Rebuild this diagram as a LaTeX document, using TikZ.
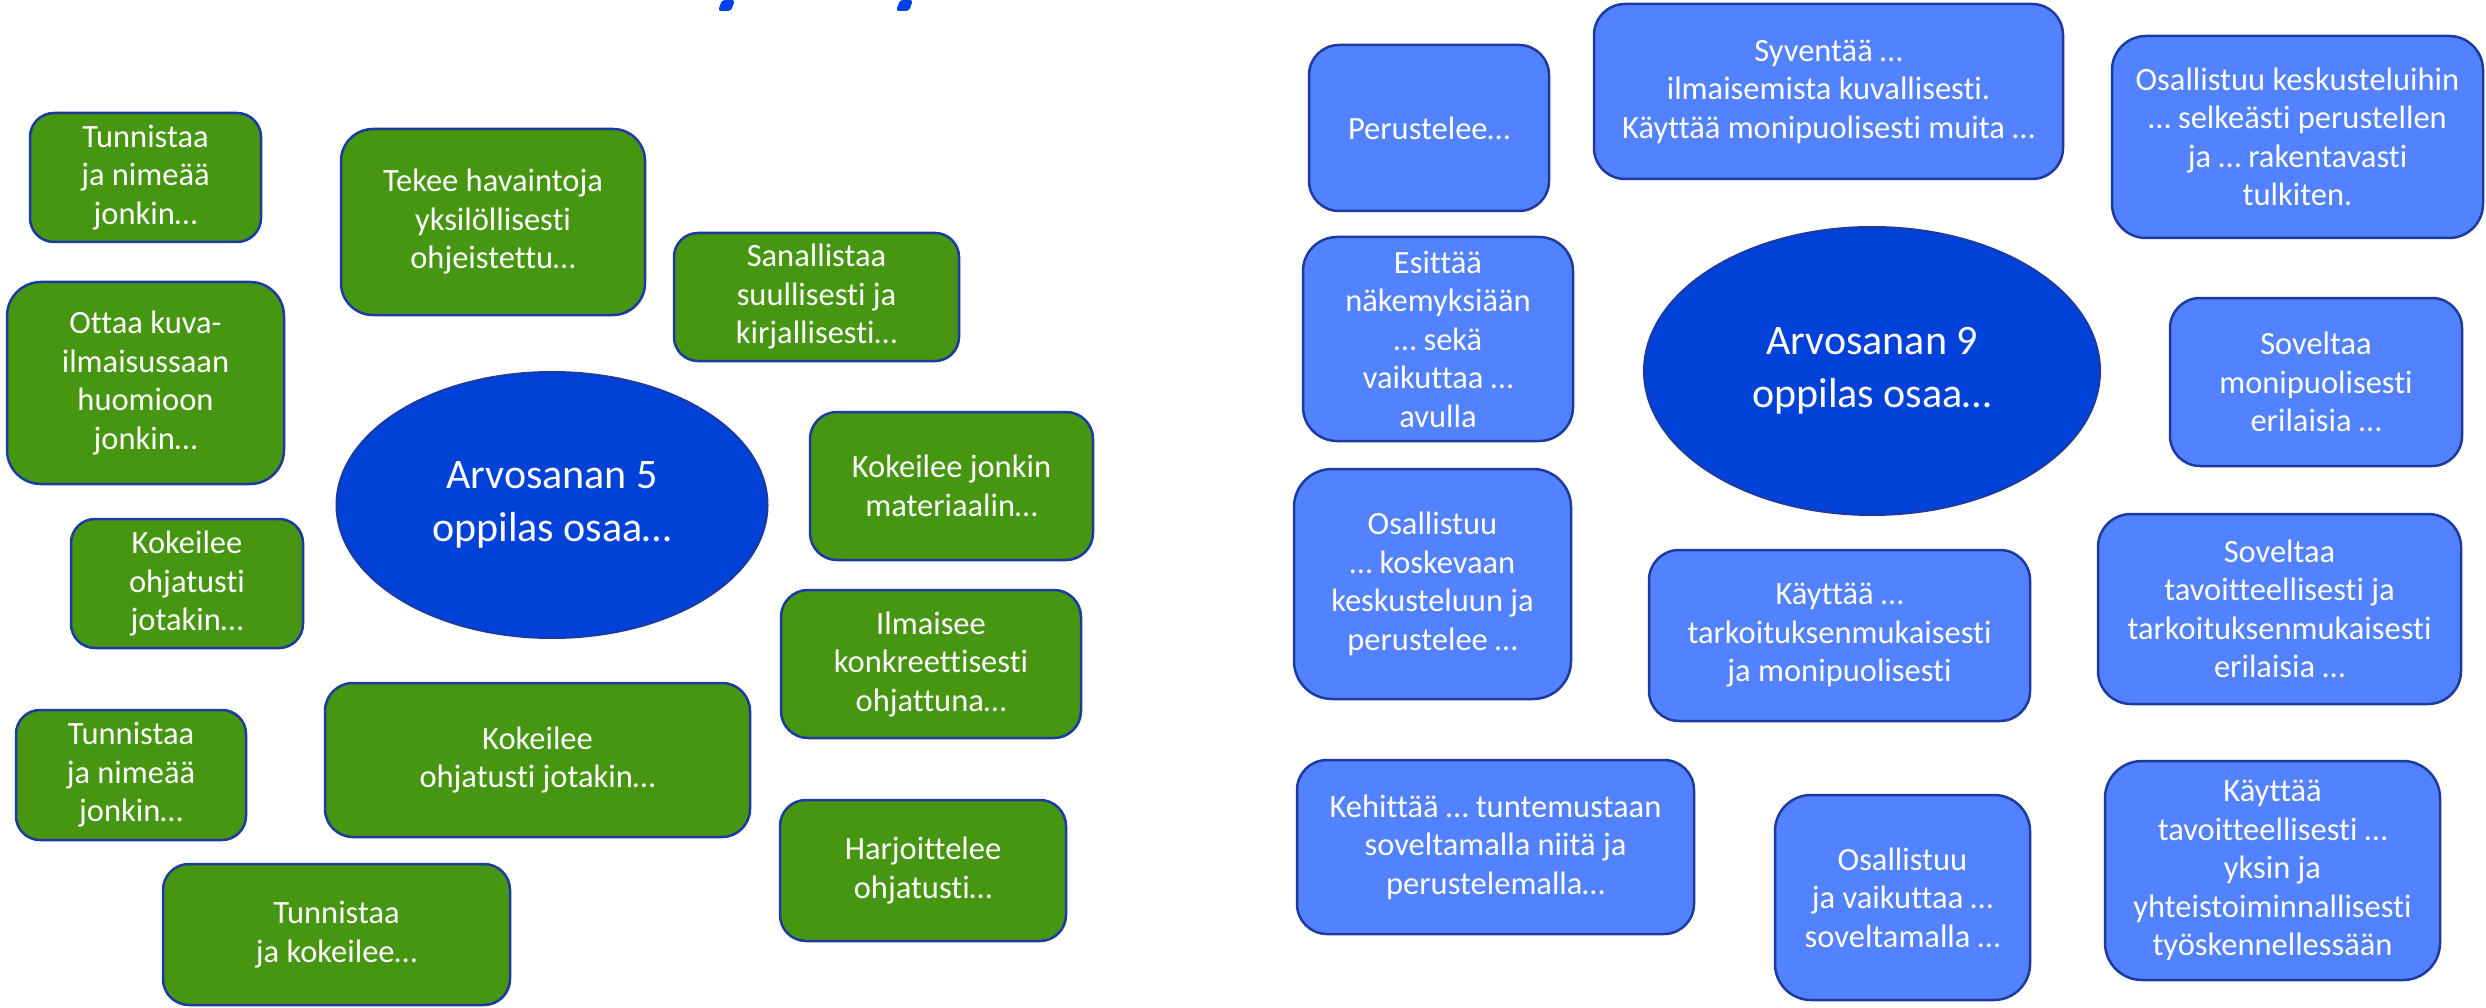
\documentclass[tikz,border=0pt]{standalone}
\usepackage{fontspec}
\setmainfont{Carlito}[Ligatures=NoCommon]
\usetikzlibrary{shapes.geometric}
\definecolor{greenc}{RGB}{70,150,18}
\definecolor{bluec}{RGB}{82,130,255}
\definecolor{ellc}{RGB}{0,65,215}
\definecolor{bordc}{RGB}{28,58,160}
\definecolor{titlec}{RGB}{0,64,230}
\tikzset{
  basebox/.style={draw=bordc, line width=2.5pt, text=white, align=center, inner sep=0pt,
    font=\fontsize{32.5}{38.5}\selectfont},
  gbox/.style={basebox, fill=greenc},
  bbox/.style={basebox, fill=bluec},
  bigell/.style={ellipse, draw=bordc, line width=2pt, fill=ellc, text=white, align=center,
    inner sep=0pt, font=\fontsize{42}{53}\selectfont},
}
\begin{document}
\begin{tikzpicture}[x=1pt,y=-1pt]
\useasboundingbox (0,0) rectangle (2486,1008);
% title fragments (cut off at top)
\fill[titlec, rounded corners=3pt] (718,11) -- (731,11) -- (735,0) -- (722,0) -- cycle;
\fill[titlec, rounded corners=3pt] (896,11) -- (909,11) -- (913,0) -- (900,0) -- cycle;

% ---- left: grade 5 ----
\node[bigell, minimum width=431pt, minimum height=266pt] (e5) at (552,505) {Arvosanan 5\\oppilas osaa…};
\node[gbox, minimum width=231pt, minimum height=129pt, rounded corners=24pt] (g1) at (145.5,177.5) {Tunnistaa\\ja nimeää\\jonkin…};
\node[gbox, minimum width=277pt, minimum height=202pt, rounded corners=34pt] (g2) at (145.5,383) {Ottaa kuva-\\ilmaisussaan\\huomioon\\jonkin…};
\node[gbox, minimum width=304pt, minimum height=186pt, rounded corners=32pt] (g3) at (493,222) {Tekee havaintoja\\yksilöllisesti\\ohjeistettu…};
\node[gbox, minimum width=285pt, minimum height=128pt, rounded corners=24pt] (g4) at (816.5,297) {Sanallistaa\\suullisesti ja\\kirjallisesti…};
\node[gbox, minimum width=283pt, minimum height=148pt, rounded corners=27pt] (g5) at (951.5,486) {Kokeilee jonkin\\materiaalin…};
\node[gbox, minimum width=300pt, minimum height=148pt, rounded corners=27pt] (g6) at (931,664) {Ilmaisee\\konkreettisesti\\ohjattuna…};
\node[gbox, minimum width=232pt, minimum height=129pt, rounded corners=24pt] (g7) at (187,583.5) {Kokeilee\\ohjatusti\\jotakin…};
\node[gbox, minimum width=230pt, minimum height=130pt, rounded corners=24pt] (g8) at (131,775) {Tunnistaa\\ja nimeää\\jonkin…};
\node[gbox, minimum width=425pt, minimum height=154pt, rounded corners=28pt] (g9) at (537.5,760) {Kokeilee\\ohjatusti jotakin…};
\node[gbox, minimum width=347pt, minimum height=141pt, rounded corners=26pt] (g10) at (336.5,934.5) {Tunnistaa\\ja kokeilee…};
\node[gbox, minimum width=286pt, minimum height=141pt, rounded corners=26pt] (g11) at (923,870.5) {Harjoittelee\\ohjatusti…};

% ---- right: grade 9 ----
\node[bigell, minimum width=456pt, minimum height=288pt] (e9) at (1872,371) {Arvosanan 9\\oppilas osaa…};
\node[bbox, minimum width=240pt, minimum height=166pt, rounded corners=30pt] (b1) at (1429,128) {Perustelee…};
\node[bbox, minimum width=469pt, minimum height=175pt, rounded corners=31pt] (b2) at (1828.5,91.5) {Syventää …\\ilmaisemista kuvallisesti.\\Käyttää monipuolisesti muita …};
\node[bbox, minimum width=371pt, minimum height=202pt, rounded corners=34pt] (b3) at (2297.5,137) {Osallistuu keskusteluihin\\… selkeästi perustellen\\ja … rakentavasti\\tulkiten.};
\node[bbox, minimum width=270pt, minimum height=204pt, rounded corners=34pt] (b4) at (1438,339) {Esittää\\näkemyksiään\\… sekä\\vaikuttaa …\\avulla};
\node[bbox, minimum width=292pt, minimum height=168pt, rounded corners=30pt] (b5) at (2316,382) {Soveltaa\\monipuolisesti\\erilaisia …};
\node[bbox, minimum width=277pt, minimum height=230pt, rounded corners=38pt] (b6) at (1432.5,584) {Osallistuu\\… koskevaan\\keskusteluun ja\\perustelee …};
\node[bbox, minimum width=381pt, minimum height=171pt, rounded corners=30pt] (b7) at (1839.5,635.5) {Käyttää …\\tarkoituksenmukaisesti\\ja monipuolisesti};
\node[bbox, minimum width=363pt, minimum height=190pt, rounded corners=33pt] (b8) at (2279.5,609) {Soveltaa\\tavoitteellisesti ja\\tarkoituksenmukaisesti\\erilaisia …};
\node[bbox, minimum width=397pt, minimum height=174pt, rounded corners=30pt] (b9) at (1495.5,847) {Kehittää … tuntemustaan\\soveltamalla niitä ja\\perustelemalla…};
\node[bbox, minimum width=255pt, minimum height=205pt, rounded corners=36pt] (b10) at (1902.5,897.5) {Osallistuu\\ja vaikuttaa …\\soveltamalla …};
\node[bbox, minimum width=335pt, minimum height=219pt, rounded corners=37pt] (b11) at (2272.5,870.5) {Käyttää\\tavoitteellisesti …\\yksin ja\\yhteistoiminnallisesti\\työskennellessään};
\end{tikzpicture}
\end{document}
